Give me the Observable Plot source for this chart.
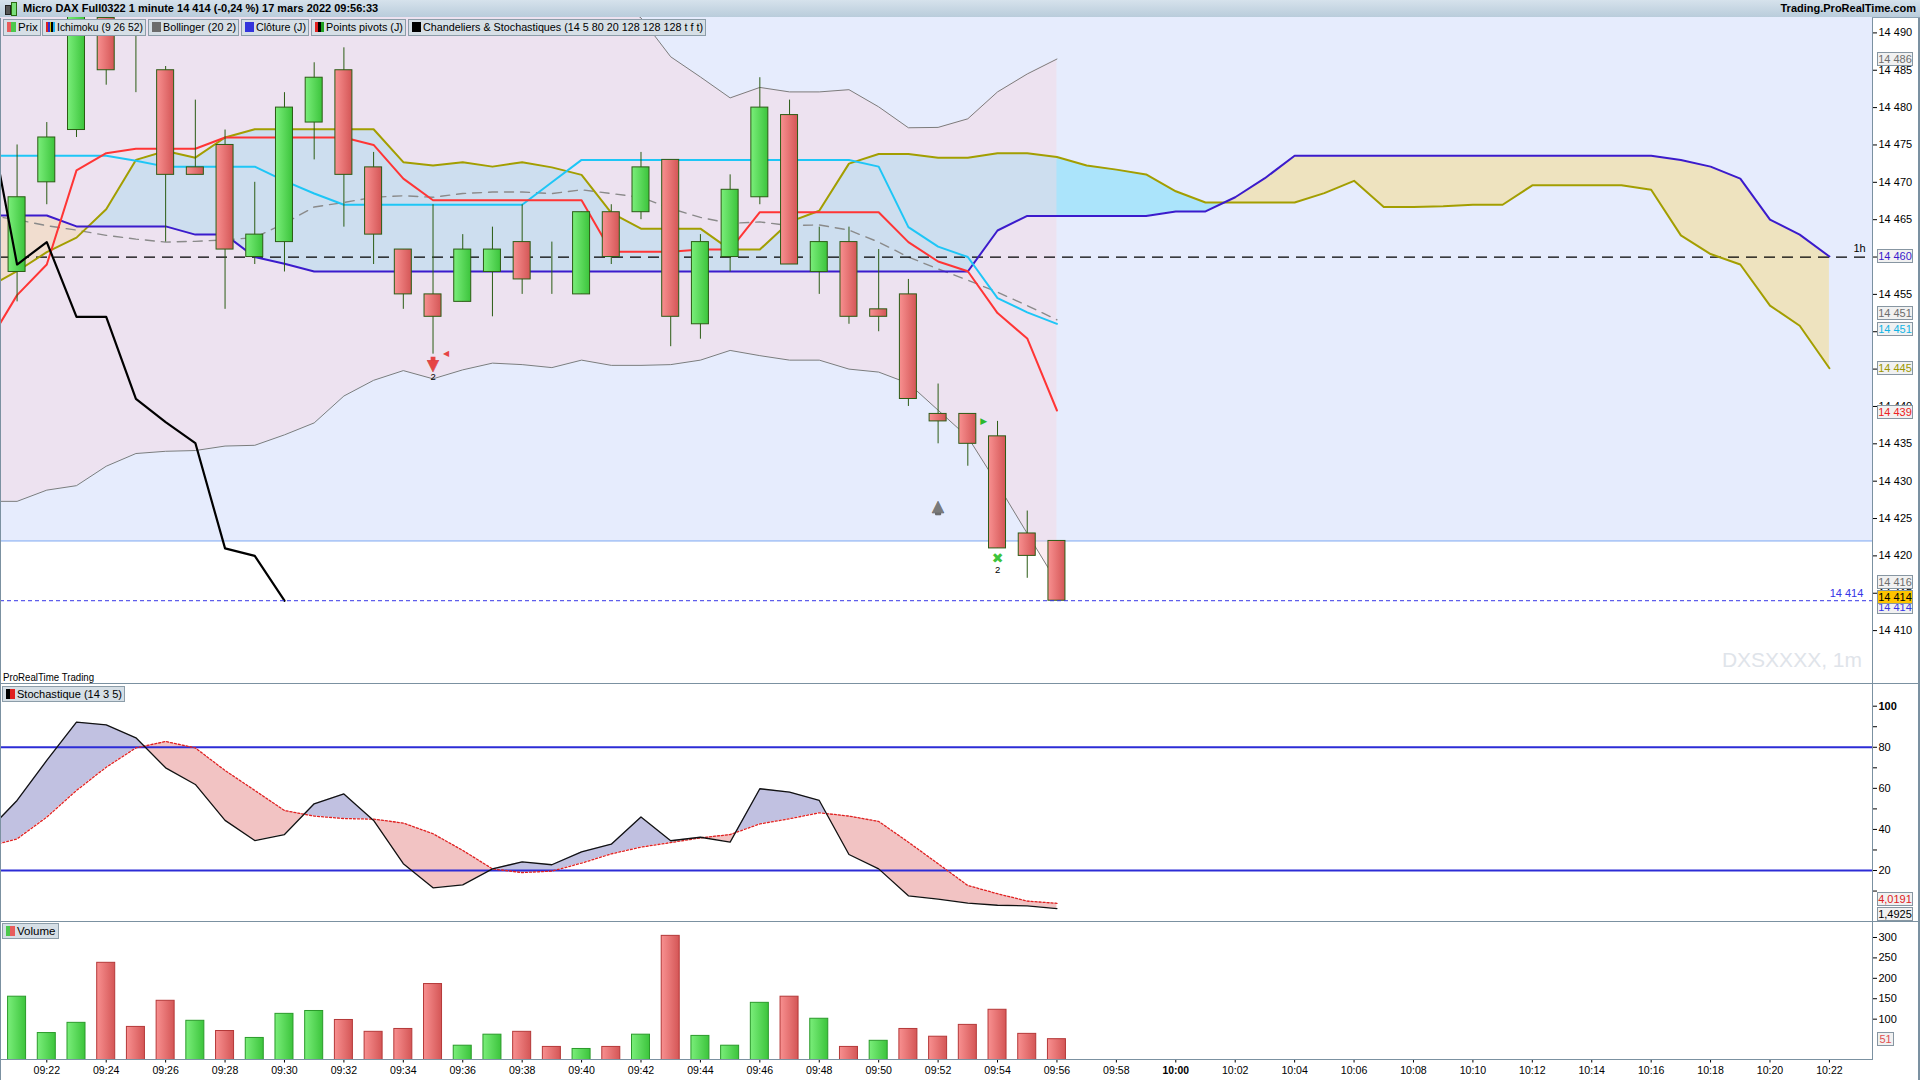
<!DOCTYPE html>
<html><head><meta charset="utf-8">
<script src="https://cdn.jsdelivr.net/npm/d3@7"></script>
<script src="https://cdn.jsdelivr.net/npm/@observablehq/plot@0.6"></script>
<style>
body{margin:0;width:1920px;height:1080px;overflow:hidden;position:relative;background:#fff;font-family:"Liberation Sans",Arial,sans-serif;}
.abs{position:absolute}
#titlebar{position:absolute;left:0;top:0;width:1920px;height:18px;background:linear-gradient(#d6e2ec,#b9ccdb);border-bottom:1px solid #8ea3b3;box-sizing:border-box;}
#titletxt{position:absolute;left:23px;top:2px;font:bold 11px "Liberation Sans",Arial,sans-serif;white-space:nowrap}
#titleright{position:absolute;right:4px;top:2px;font:bold 11px "Liberation Sans",Arial,sans-serif;white-space:nowrap}
.btn{position:absolute;height:17px;background:#d6dfe6;border:1px solid #8c9da9;box-sizing:border-box;font:11.5px "Liberation Sans",sans-serif;line-height:15px;padding:0 2px 0 3px;white-space:nowrap;color:#000;overflow:hidden}
.bt{display:inline-block;transform-origin:0 50%}
.ico{display:inline-block;width:9px;height:10px;vertical-align:-1px;margin-right:2px}
.tag{position:absolute;left:1877px;width:36px;height:14px;box-sizing:border-box;border:1px solid #8796a2;font:11px "Liberation Sans",sans-serif;line-height:12px;text-align:center;white-space:nowrap}
.sep{position:absolute;background:#7b91a1}
</style></head><body>
<svg width="0" height="0" style="position:absolute">
<defs>
<linearGradient id="gUp" x1="0" x2="1" y1="0" y2="0"><stop offset="0" stop-color="#7aee7a"/><stop offset="1" stop-color="#3cc43c"/></linearGradient>
<linearGradient id="gDn" x1="0" x2="1" y1="0" y2="0"><stop offset="0" stop-color="#f89090"/><stop offset="1" stop-color="#d45656"/></linearGradient>
</defs></svg>
<div id="titlebar">
  <span class="abs" style="left:5px;top:5px;width:4px;height:8px;background:#555;border:1px solid #222"></span>
  <span class="abs" style="left:11px;top:2px;width:4px;height:12px;background:#7ae07a;border:1px solid #2a6a10"></span>
  <div id="titletxt">Micro DAX Full0322 1 minute 14 414 (-0,24 %) 17 mars 2022 09:56:33</div>
  <div id="titleright">Trading.ProRealTime.com</div>
</div>
<div id="price" class="abs" style="left:0;top:17px"></div>
<div id="stoch" class="abs" style="left:0;top:684px"></div>
<div id="vol" class="abs" style="left:0;top:922px"></div>
<script>
// ---------------- DATA ----------------
const candleStart = "09:21";           // first candle, one per minute
const opens  = [14458,14470,14477,14492,14484,14485,14472,14475,14460,14462,14478,14485,14472,14461,14455,14454,14458,14462,14456,14455,14466,14466,14473,14451,14460,14468,14479,14458,14462,14453,14455,14439,14439,14436,14423,14422];
const highs  = [14475,14478,14495,14494,14491,14485.5,14481,14477,14470,14482,14486,14488,14474,14461,14467,14463,14464,14467,14462,14466,14467,14474,14473,14463,14471,14484,14481,14464,14464,14461,14457,14443,14439,14438,14426,14422];
const lows   = [14454,14467,14476,14483,14482,14462,14471,14453,14459,14458,14473,14464,14459,14453,14447,14454,14452,14455,14455,14455,14459,14465,14448,14449,14458,14467,14459,14455,14451,14450,14440,14435,14432,14421,14417,14414];
const closes = [14468,14476,14493,14485,14484,14471,14471,14461,14463,14480,14484,14471,14463,14455,14452,14461,14461,14457,14456,14466,14460,14472,14452,14462,14469,14480,14459,14462,14452,14452,14441,14438,14435,14421,14420,14414];

const indStart = "09:20";              // indicator series start (one value per minute)
const tenkan = [14448.3,14454.9,14459.0,14471.6,14473.9,14474.5,14474.5,14474.5,14476.0,14476.0,14476.0,14476.0,14476.0,14475.0,14470.5,14467.6,14467.6,14467.6,14467.6,14467.6,14467.6,14460.7,14460.7,14460.7,14461.0,14461.0,14466.0,14466.0,14466.0,14466.0,14466.0,14462.0,14459.4,14458.1,14452.5,14449.1,14439.46];
const kijun  = [14473.55,14473.55,14473.55,14473.55,14473.55,14472.9,14472.1,14472.1,14472.1,14472.1,14470.2,14468.5,14467.0,14467.0,14467.0,14467.0,14467.0,14467.0,14467.0,14470.0,14473.0,14473.0,14473.0,14473.0,14473.0,14473.0,14473.0,14473.0,14473.0,14473.0,14472.1,14464.0,14461.4,14460.0,14454.5,14452.6,14451.06];
const bbMid  = [14465.6,14465.0,14464.2,14463.6,14462.9,14462.4,14462.0,14462.1,14462.3,14462.6,14464.5,14466.7,14467.3,14468.0,14468.2,14468.0,14468.5,14468.7,14468.7,14468.5,14469.0,14468.5,14468.0,14466.5,14465.3,14464.5,14464.7,14464.2,14464.3,14463.6,14462.0,14460.0,14458.4,14456.9,14455.3,14453.5,14451.6];
const bbUpper= [14497,14498,14499,14501,14503,14504,14504,14504,14503,14502,14502,14503,14503,14502,14501,14501,14500,14499,14498,14497,14496,14495,14492,14486.8,14484.1,14481.3,14482.7,14482.1,14482.1,14482.4,14480.1,14477.3,14477.35,14478.5,14482.1,14484.5,14486.5];
const bbLower= [14427.3,14427.3,14428.8,14429.4,14432.0,14433.7,14434.0,14434.1,14434.7,14434.8,14436.2,14437.8,14441.4,14443.5,14444.8,14443.7,14444.9,14445.8,14445.6,14445.2,14446.2,14445.5,14445.5,14445.6,14446.2,14447.5,14446.8,14446.2,14446.2,14445.0,14444.6,14443.1,14439.5,14435.9,14429.6,14423.0,14416.48];

const cloudStart = "09:20";            // Senkou spans, projected 26 minutes ahead
const spanA = [14455.9,14458.1,14460.65,14462.6,14466.4,14473.0,14474.2,14473.3,14476.0,14477.1,14477.1,14477.1,14477.1,14477.1,14472.7,14472.25,14472.7,14472.1,14472.7,14472.0,14471.0,14465.9,14463.8,14463.8,14463.8,14461.0,14461.0,14464.7,14466.2,14472.5,14473.8,14473.8,14473.3,14473.3,14473.9,14473.9,14473.4,14472.25,14471.7,14471.05,14468.8,14467.3,14467.3,14467.3,14467.3,14468.55,14470.2,14466.7,14466.7,14466.8,14467.0,14467.0,14469.6,14469.6,14469.6,14469.6,14469.0,14462.9,14460.4,14459.0,14453.5,14450.8,14445.12];
const spanB = [14465.56,14465.56,14465.56,14464.1,14464.1,14464.1,14464.1,14463.0,14463.0,14460.0,14459.1,14458.06,14458.06,14458.06,14458.06,14458.06,14458.06,14458.06,14458.06,14458.06,14458.06,14458.06,14458.06,14458.06,14458.06,14458.06,14458.06,14458.06,14458.06,14458.06,14458.06,14458.06,14458.06,14458.06,14463.55,14465.5,14465.5,14465.5,14465.5,14465.5,14466.1,14466.1,14468.0,14470.55,14473.55,14473.55,14473.55,14473.55,14473.55,14473.55,14473.55,14473.55,14473.55,14473.55,14473.55,14473.55,14473.55,14473.0,14472.1,14470.5,14465.0,14463.0,14460.07];

const trailStart = "09:20";            // "Chandeliers & Stochastiques" black line
const trail = [14480,14459,14462,14452,14452,14441,14437.9,14435.1,14421,14420,14414];

const pivotLevels = [14460];  const pivotLabels = ["1h"];
const zoneLow = 14422;                 // shaded zone lower bound (extends above chart)
const lastPrice = 14414;

// signal markers: time, price
const arrowsDown = [{time:"09:35", price:14445.8, color:"#e64444", edge:"#b02020"}];
const arrowsUp   = [{time:"09:52", price:14426.3, color:"#7a7a7a", edge:"#444"}];
const triLeft    = [{time:"09:35", price:14447.1, color:"#e64444"}];
const triRight   = [{time:"09:53", price:14438.0, color:"#2cb82c"}];
const crosses    = [{time:"09:54", price:14419.6, color:"#3cc43c"}];
const counts     = [{time:"09:35", price:14444.0, text:"2"}, {time:"09:54", price:14418.1, text:"2"}];

const stochStart = "09:20";
const stochK = [39,54.1,73.6,92.2,90.9,84.6,70.0,61.9,44.4,34.6,37.5,52.5,57.3,44.4,23.3,11.6,13.0,20.8,24.2,22.8,29.1,32.8,46.1,34.5,36.2,33.8,59.8,58.2,54.1,27.8,20.8,7.7,6.1,4.1,3.1,2.8,1.4925];
const stochD = [31.6,35.4,46.0,59.0,70.3,79.7,82.8,79.7,68.7,59.0,49.2,46.5,45.3,45.0,43.1,37.9,29.8,20.8,19.0,19.7,23.6,28.1,31.4,33.6,35.9,37.5,42.7,45.2,48.1,46.5,43.9,33.8,23.3,12.7,8.7,5.1,4.0191];
const stochLevels = [80, 20];

const volStart = "09:21";
const volumes = [155,66,91,238,81,145,96,71,54,113,120,98,69,76,186,35,62,69,32,27,32,62,304,59,35,140,155,101,32,47,76,57,86,123,64,51];
const volUp   = [1,1,1,0,0,0,1,0,1,1,1,0,0,0,0,1,1,0,0,1,0,1,0,1,1,1,0,1,0,1,0,0,0,0,0,0];

const xTickLabels = ["09:22","09:24","09:26","09:28","09:30","09:32","09:34","09:36","09:38","09:40","09:42","09:44","09:46","09:48","09:50","09:52","09:54","09:56","09:58","10:00","10:02","10:04","10:06","10:08","10:10","10:12","10:14","10:16","10:18","10:20","10:22"];
const priceTicks = [14410,14415,14420,14425,14430,14435,14440,14445,14450,14455,14460,14465,14470,14475,14480,14485,14490];
const stochTicks = [10,20,30,40,50,60,70,80,90,100];
const volTicks = [100,150,200,250,300];

// ---------------- HELPERS ----------------
const minuteOf = s => { const [h,m] = s.split(":").map(Number); return h*60+m; };
const T0 = minuteOf(xTickLabels[0]);
const tOf = s => minuteOf(s) - T0;
const series = (start, vals) => vals.map((v,i) => ({t: tOf(start)+i, v}));
const withT = arr => arr.map(d => ({...d, t: tOf(d.time)}));
const fmtPrice = v => { const s = String(v); return s.slice(0, s.length-3) + " " + s.slice(-3); };
function splitFill(start, a, b) {
  const t0 = tOf(start), rows = [];
  for (let i = 0; i < a.length; i++) {
    if (i > 0) {
      const d0 = a[i-1]-b[i-1], d1 = a[i]-b[i];
      if (d0*d1 < 0) { const f = d0/(d0-d1); const v = a[i-1]+f*(a[i]-a[i-1]); rows.push({t: t0+i-1+f, a: v, b: v}); }
    }
    rows.push({t: t0+i, a: a[i], b: b[i]});
  }
  return rows;
}

const W = 1920, MR = 48;
const xDomain = [-1.558, 61.45];
const FONT = '"Liberation Sans", Arial, sans-serif';
const baseStyle = {fontFamily: FONT, fontSize: "11px", background: "transparent", color: "#000", overflow: "visible"};

const candles = opens.map((o,i) => ({t: tOf(candleStart)+i, open:o, high:highs[i], low:lows[i], close:closes[i]}));
const upC = candles.filter(d => d.close >= d.open), dnC = candles.filter(d => d.close < d.open);
const bbRows = bbUpper.map((u,i) => ({t: tOf(indStart)+i, up: u, lo: bbLower[i]}));
const cloudRows = splitFill(cloudStart, spanA, spanB);
const stochRows = splitFill(stochStart, stochK, stochD);

// ---------------- PRICE PANEL ----------------
const hw = 0.286;
const G = "DejaVu Sans";
const price = Plot.plot({
  width: W, height: 666, marginLeft: 0, marginRight: MR, marginTop: 0, marginBottom: 0,
  style: baseStyle,
  x: {domain: xDomain, axis: null},
  y: {domain: [14402.92, 14492.06], axis: "right", ticks: priceTicks, tickFormat: fmtPrice, tickSize: 4, tickPadding: 2, label: null},
  marks: [
    Plot.rectY([{lo: zoneLow, hi: 14600}], {x1: xDomain[0], x2: xDomain[1], y1: "lo", y2: "hi", fill: "#e6ecfd", clip: true}),
    Plot.ruleY([zoneLow], {stroke: "#78a2f0", strokeWidth: 1, clip: true}),
    Plot.areaY(cloudRows, {x: "t", y1: "b", y2: d => Math.max(d.a, d.b), fill: "#abe4fb", clip: true}),
    Plot.areaY(cloudRows, {x: "t", y1: "a", y2: d => Math.max(d.a, d.b), fill: "#eee3bf", clip: true}),
    Plot.areaY(bbRows, {x: "t", y1: "lo", y2: "up", fill: "#f5d6e2", fillOpacity: 0.47, clip: true}),
    Plot.line(bbRows, {x: "t", y: "up", stroke: "#7c7c7c", strokeWidth: 1, clip: true}),
    Plot.line(bbRows, {x: "t", y: "lo", stroke: "#7c7c7c", strokeWidth: 1, clip: true}),
    Plot.line(series(indStart, bbMid), {x: "t", y: "v", stroke: "#8a8a8a", strokeWidth: 1.4, strokeDasharray: "9,7", clip: true}),
    Plot.ruleY(pivotLevels, {stroke: "#000", strokeWidth: 1.2, strokeDasharray: "11,7", clip: true}),
    Plot.text(pivotLevels, {x: xDomain[1], y: d => d, text: (d,i) => pivotLabels[i], dx: -13, dy: -9, fontSize: 11}),
    Plot.line(series(cloudStart, spanA), {x: "t", y: "v", stroke: "#a39e00", strokeWidth: 2, clip: true}),
    Plot.line(series(cloudStart, spanB), {x: "t", y: "v", stroke: "#3b1bcc", strokeWidth: 2, clip: true}),
    Plot.line(series(indStart, kijun), {x: "t", y: "v", stroke: "#1ec6f6", strokeWidth: 2, clip: true}),
    Plot.line(series(indStart, tenkan), {x: "t", y: "v", stroke: "#ff3535", strokeWidth: 2, clip: true}),
    Plot.ruleX(candles, {x: "t", y1: "low", y2: "high", stroke: "#2b5c14", strokeWidth: 1, clip: true}),
    Plot.rect(upC, {x1: d => d.t-hw, x2: d => d.t+hw, y1: "open", y2: "close", fill: "url(#gUp)", stroke: "#2b5c14", strokeWidth: 1, clip: true}),
    Plot.rect(dnC, {x1: d => d.t-hw, x2: d => d.t+hw, y1: "open", y2: "close", fill: "url(#gDn)", stroke: "#2b5c14", strokeWidth: 1, clip: true}),
    Plot.line(series(trailStart, trail), {x: "t", y: "v", stroke: "#000", strokeWidth: 2.2, clip: true}),
    Plot.ruleY([lastPrice], {stroke: "#3535e6", strokeWidth: 1, strokeDasharray: "4,3", clip: true}),
    Plot.text([lastPrice], {x: xDomain[1], y: d => d, text: d => fmtPrice(d), dx: -26, dy: -7, fill: "#3535e6", fontSize: 11}),
    // block arrows (shaft + head)
    Plot.dot(withT(arrowsDown), {x: "t", y: "price", symbol: "square", r: 2.7, fill: "color", dy: -4}),
    Plot.text(withT(arrowsDown), {x: "t", y: "price", text: () => "▼", fill: "color", stroke: "edge", strokeWidth: 0.5, fontSize: 15, fontFamily: G, dy: 2.5}),
    Plot.dot(withT(arrowsUp), {x: "t", y: "price", symbol: "square", r: 2.9, fill: "color", stroke: "edge", strokeWidth: 0.6, dy: 3.5}),
    Plot.text(withT(arrowsUp), {x: "t", y: "price", text: () => "▲", fill: "color", stroke: "edge", strokeWidth: 0.6, fontSize: 15, fontFamily: G, dy: -3}),
    Plot.text(withT(triLeft), {x: "t", y: "price", text: () => "◀", fill: "color", fontSize: 8, fontFamily: G, dx: 13}),
    Plot.text(withT(triRight), {x: "t", y: "price", text: () => "▶", fill: "color", fontSize: 9, fontFamily: G, dx: 16}),
    Plot.text(withT(crosses), {x: "t", y: "price", text: () => "✖", fill: "color", fontSize: 14, fontFamily: G}),
    Plot.text(withT(counts), {x: "t", y: "price", text: "text", fill: "#000", fontSize: 9.5})
  ]
});
document.getElementById("price").appendChild(price);

// ---------------- STOCH PANEL ----------------
const stoch = Plot.plot({
  width: W, height: 237, marginLeft: 0, marginRight: MR, marginTop: 0, marginBottom: 0,
  style: baseStyle,
  x: {domain: xDomain, axis: null},
  y: {domain: [-4.82, 110.56], axis: "right", ticks: stochTicks, tickFormat: v => v % 20 === 0 ? String(v) : "", tickSize: 4, tickPadding: 2, label: null},
  marks: [
    Plot.areaY(stochRows, {x: "t", y1: "b", y2: d => Math.max(d.a, d.b), fill: "#c1c1e1", clip: true}),
    Plot.areaY(stochRows, {x: "t", y1: "a", y2: d => Math.max(d.a, d.b), fill: "#f2c3c3", clip: true}),
    Plot.ruleY(stochLevels, {stroke: "#2c2cd6", strokeWidth: 2}),
    Plot.line(series(stochStart, stochD), {x: "t", y: "v", stroke: "#e02222", strokeWidth: 1.3, strokeDasharray: "2,2", clip: true}),
    Plot.line(series(stochStart, stochK), {x: "t", y: "v", stroke: "#111", strokeWidth: 1.3, clip: true})
  ]
});
document.getElementById("stoch").appendChild(stoch);

// ---------------- VOLUME PANEL ----------------
const volRows = volumes.map((v,i) => ({t: tOf(volStart)+i, v, up: volUp[i]}));
const bw = 0.303;
const vol = Plot.plot({
  width: W, height: 158, marginLeft: 0, marginRight: MR, marginTop: 0, marginBottom: 20.5,
  style: baseStyle,
  x: {domain: xDomain, ticks: xTickLabels.map(tOf), tickFormat: d => xTickLabels[d/2], tickSize: 3, tickPadding: 3, label: null},
  y: {domain: [0, 336.7], axis: "right", ticks: volTicks, tickSize: 4, tickPadding: 2, label: null},
  marks: [
    Plot.rectY(volRows.filter(d => d.up), {x1: d => d.t-bw, x2: d => d.t+bw, y1: 0, y2: "v", fill: "url(#gUp)", stroke: "#2a9a2a", strokeWidth: 1}),
    Plot.rectY(volRows.filter(d => !d.up), {x1: d => d.t-bw, x2: d => d.t+bw, y1: 0, y2: "v", fill: "url(#gDn)", stroke: "#b43838", strokeWidth: 1})
  ]
});
document.getElementById("vol").appendChild(vol);

// condensed time labels, bold special labels
d3.select(vol).selectAll("text").filter(function(){ return xTickLabels.includes(this.textContent); })
  .attr("font-size", 11.5).attr("textLength", 26.5).attr("lengthAdjust", "spacingAndGlyphs");
d3.select(vol).selectAll("text").filter(function(){ return this.textContent === "10:00"; }).attr("font-weight", "bold");
d3.select(stoch).selectAll("text").filter(function(){ return this.textContent === "100"; }).attr("font-weight", "bold");

// ---------------- OVERLAYS (html) ----------------
function add(html) { document.body.insertAdjacentHTML("beforeend", html); }
function addTags(plot, top, tags) {
  const ys = plot.scale("y");
  for (const tg of tags) {
    const y = top + ys.apply(tg.v) + (tg.dy || 0);
    add(`<div class="tag" style="top:${(y-7).toFixed(1)}px;color:${tg.color};background:${tg.bg||"#f1f1f1"};${tg.w?`width:${tg.w}px;`:""}">${tg.text}</div>`);
  }
}
addTags(price, 17, [
  {text: "14 486", v: bbUpper.at(-1), color: "#6d6d6d"},
  {text: "14 460", v: spanB.at(-1), color: "#3b1bcc"},
  {text: "14 451", v: bbMid.at(-1), color: "#6d6d6d", dy: -6},
  {text: "14 451", v: kijun.at(-1), color: "#12b4e6", dy: 5.5},
  {text: "14 445", v: spanA.at(-1), color: "#9c9800"},
  {text: "14 439", v: tenkan.at(-1), color: "#ee2222", dy: 2},
  {text: "14 416", v: bbLower.at(-1), color: "#6d6d6d"},
  {text: "14 414", v: lastPrice, color: "#3535e6", dy: 7},
  {text: "14 414", v: lastPrice, color: "#000", bg: "#ffc400", dy: -3}
]);
addTags(stoch, 684, [
  {text: "4,0191", v: stochD.at(-1), color: "#e02222", dy: -3.5},
  {text: "1,4925", v: stochK.at(-1), color: "#000", dy: 5.7}
]);
addTags(vol, 922, [{text: String(volumes.at(-1)), v: volumes.at(-1), color: "#e05050", w: 17}]);

// separators & frame
add(`<div class="sep" style="left:0;top:683px;width:1920px;height:1px"></div>`);
add(`<div class="sep" style="left:0;top:921px;width:1920px;height:1px"></div>`);
add(`<div class="sep" style="left:0;top:1059px;width:1873px;height:1px"></div>`);
add(`<div class="sep" style="left:1872px;top:18px;width:1px;height:1042px"></div>`);
add(`<div class="sep" style="left:0;top:18px;width:1px;height:1062px"></div>`);
add(`<div class="sep" style="left:1918px;top:18px;width:2px;height:1062px"></div>`);

// legends
const ico = (c) => `<span class="ico" style="background:${c}"></span>`;
const btn = (l, t, w, c, txt, h) => add(`<div class="btn" style="left:${l}px;top:${t}px;width:${w}px${h?`;height:${h}px;line-height:${h-2}px`:""}">${ico(c)}<span class="bt">${txt}</span></div>`);
btn(3, 19, 38, "linear-gradient(90deg,#e85c5c 50%,#4cc84c 50%)", "Prix");
btn(42, 19, 104, "linear-gradient(90deg,#e02020 0 20%,#3030d0 20% 40%,#d8c000 40% 60%,#000 60% 80%,#20b0f0 80%)", "Ichimoku (9 26 52)");
btn(148, 19, 91, "#6c6c6c", "Bollinger (20 2)");
btn(241, 19, 68, "#3434dc", "Clôture (J)");
btn(311, 19, 95, "linear-gradient(90deg,#e02020 0 33%,#000 33% 66%,#20a020 66%)", "Points pivots (J)");
btn(408, 19, 298, "#000", "Chandeliers &amp; Stochastiques (14 5 80 20 128 128 128 t f t)");
btn(2, 686, 123, "linear-gradient(90deg,#000 50%,#e02020 50%)", "Stochastique (14 3 5)", 16);
btn(2, 923, 57, "linear-gradient(90deg,#4cc84c 50%,#e85c5c 50%)", "Volume", 16);
// fit each legend text into its button
document.querySelectorAll(".btn").forEach(b => {
  const s = b.querySelector(".bt");
  const avail = b.clientWidth - 3 - 2 - 11;
  const w = s.getBoundingClientRect().width;
  if (w > avail) s.style.transform = `scaleX(${(avail / w).toFixed(3)})`;
});
add(`<div class="abs" style="left:3px;top:671px;font:11px 'Liberation Sans',sans-serif;transform:scaleX(0.88);transform-origin:0 0">ProRealTime Trading</div>`);
add(`<div class="abs" style="left:1700px;width:162px;text-align:right;top:648px;font:21px 'Liberation Sans',sans-serif;color:#dfe4ea">DXSXXXX, 1m</div>`);
</script>
</body></html>
